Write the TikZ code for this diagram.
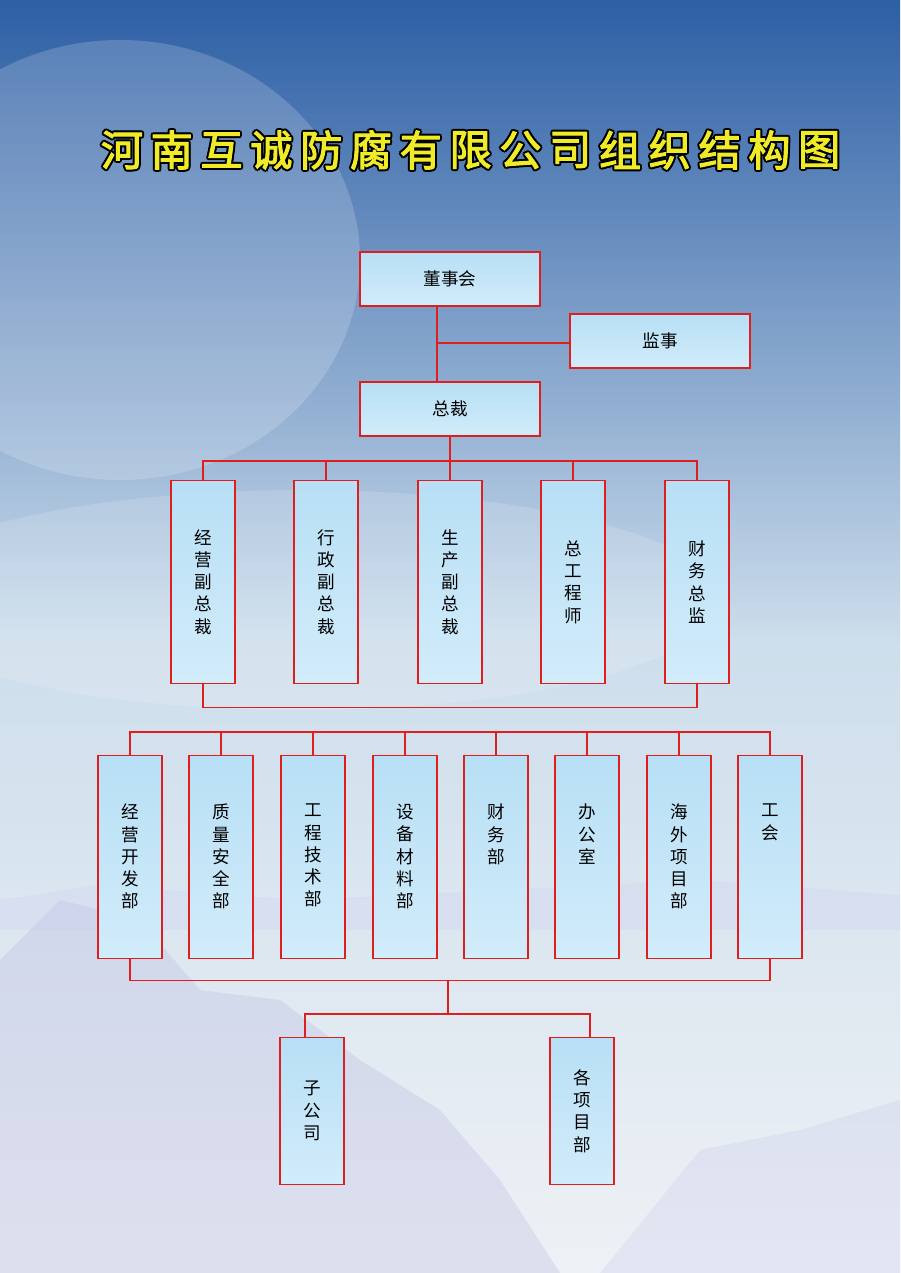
\documentclass[tikz,border=0pt]{standalone}
\usepackage{xcolor}
\usepackage{fontspec}
\usepackage{tikz}
\usetikzlibrary{shapes,arrows,positioning}
\newfontfamily\cjk{Noto Sans CJK SC}
\newfontfamily\cjkbold{Noto Sans CJK SC}[FakeBold=2.5]
\definecolor{linered}{RGB}{225,30,30}
\definecolor{boxtop}{RGB}{183,223,245}
\definecolor{boxbot}{RGB}{210,236,250}
\definecolor{skytop}{RGB}{45,95,165}
\definecolor{skymid}{RGB}{205,222,236}
\definecolor{skybot}{RGB}{238,241,245}
\definecolor{titleyellow}{RGB}{240,235,40}

\begin{document}
\begin{tikzpicture}[x=0.03cm, y=-0.03cm,
  box/.style={rectangle, draw=linered, line width=1.5pt, top color=boxtop, bottom color=boxbot, inner sep=0pt, font=\cjk\fontsize{15}{19}\selectfont, align=center},
  widebox/.style={box, minimum width=5.4cm, minimum height=1.62cm},
  tallbox/.style={box, minimum width=1.92cm, minimum height=6.09cm},
  deptbox/.style={box, minimum width=1.92cm, minimum height=6.09cm},
  subbox/.style={box, minimum width=1.92cm, minimum height=4.41cm},
  toptext/.style={anchor=north, font=\cjk\fontsize{15}{19}\selectfont, align=center},
  link/.style={draw=linered, line width=1.5pt}]

  % background sky
  \useasboundingbox (0,0) rectangle (900,1273);
  \shade[top color=skytop, bottom color=skymid] (0,0) rectangle (900,640);
  \shade[top color=skymid, bottom color=skybot] (0,640) rectangle (900,1273);
  \fill[white, opacity=0.18] (120,260) ellipse (240 and 220);
  \fill[white, opacity=0.15] (300,600) ellipse (420 and 110);
  \fill[gray!60!blue!40, opacity=0.3] (0,960) -- (60,900) -- (140,920) -- (200,990) -- (280,1000) -- (360,1060)
    -- (440,1110) -- (500,1180) -- (560,1273) -- (0,1273) -- cycle;
  \fill[gray!50!blue!30, opacity=0.25] (600,1273) -- (700,1150) -- (800,1130) -- (900,1100) -- (900,1273) -- cycle;
  \fill[gray!40!blue!25, opacity=0.25] (0,900) -- (100,885) -- (300,900) -- (500,890) -- (700,880) -- (900,895) -- (900,930) -- (0,930) -- cycle;

  % title
  \foreach \ch [count=\i from 0] in {河,南,互,诚,防,腐,有,限,公,司,组,织,结,构,图} {
    \foreach \dx/\dy in {-2/0,2/0,0/-2,0/2,-1.5/-1.5,1.5/1.5,-1.5/1.5,1.5/-1.5}
      \node[text=black, font=\cjkbold\fontsize{36}{36}\selectfont] at (122+\i*49.8+\dx,150+\dy) {\ch};
    \node[text=titleyellow, font=\cjkbold\fontsize{36}{36}\selectfont] (title\i) at (122+\i*49.8,150) {\ch};
  }

  % top level
  \node[widebox] (board) at (450,279) {董事会};
  \node[widebox] (supervisor) at (660,341) {监事};
  \node[widebox] (president) at (450,409) {总裁};
  \coordinate (trunk) at (437,343);

  % vice presidents
  \node[tallbox] (vp1) at (203,582) {经\\营\\副\\总\\裁};
  \node[tallbox] (vp2) at (326,582) {行\\政\\副\\总\\裁};
  \node[tallbox] (vp3) at (450,582) {生\\产\\副\\总\\裁};
  \node[tallbox] (vp4) at (573,582) {总\\工\\程\\师};
  \node[tallbox] (vp5) at (697,582) {财\\务\\总\\监};

  % departments
  \foreach \name/\xpos/\txt in {d1/130/{经\\营\\开\\发\\部}, d2/221/{质\\量\\安\\全\\部}, d3/313/{工\\程\\技\\术\\部},
    d4/405/{设\\备\\材\\料\\部}, d5/496/{财\\务\\部}, d6/587/{办\\公\\室}, d7/679/{海\\外\\项\\目\\部}, d8/770/{工\\会}} {
    \node[deptbox] (\name) at (\xpos,857) {};
    \node[toptext] (\name txt) at (\xpos,800) {\txt};
  }

  % subsidiaries
  \node[subbox] (sub1) at (312,1111) {子\\公\\司};
  \node[subbox] (sub2) at (582,1111) {各\\项\\目\\部};

  % connectors
  \draw[link] (board.south -| trunk) -- (president.north -| trunk);
  \draw[link] (trunk) -- (trunk -| supervisor.west);
  \draw[link] (president.south) -- ++(0,24) coordinate (vpbus);
  \draw[link] (vp1.north) |- (vpbus) -| (vp5.north);
  \foreach \n in {vp2,vp3,vp4} \draw[link] (\n.north) -- (\n.north |- vpbus);
  \draw[link] (vp1.south) -- ++(0,23) -| (vp5.south);
  \draw[link] (d1.north) -- ++(0,-23) coordinate (dbus) -| (d8.north);
  \foreach \n in {d2,d3,d4,d5,d6,d7} \draw[link] (\n.north) -- (\n.north |- dbus);
  \draw[link] (d1.south) -- ++(0,21) coordinate (lowbus) -| (d8.south);
  \coordinate (split) at (448,980);
  \draw[link] (split) -- ++(0,34) coordinate (subbus);
  \draw[link] ([xshift=-0.21cm]sub1.north) |- (subbus) -| ([xshift=0.24cm]sub2.north);
\end{tikzpicture}
\end{document}
